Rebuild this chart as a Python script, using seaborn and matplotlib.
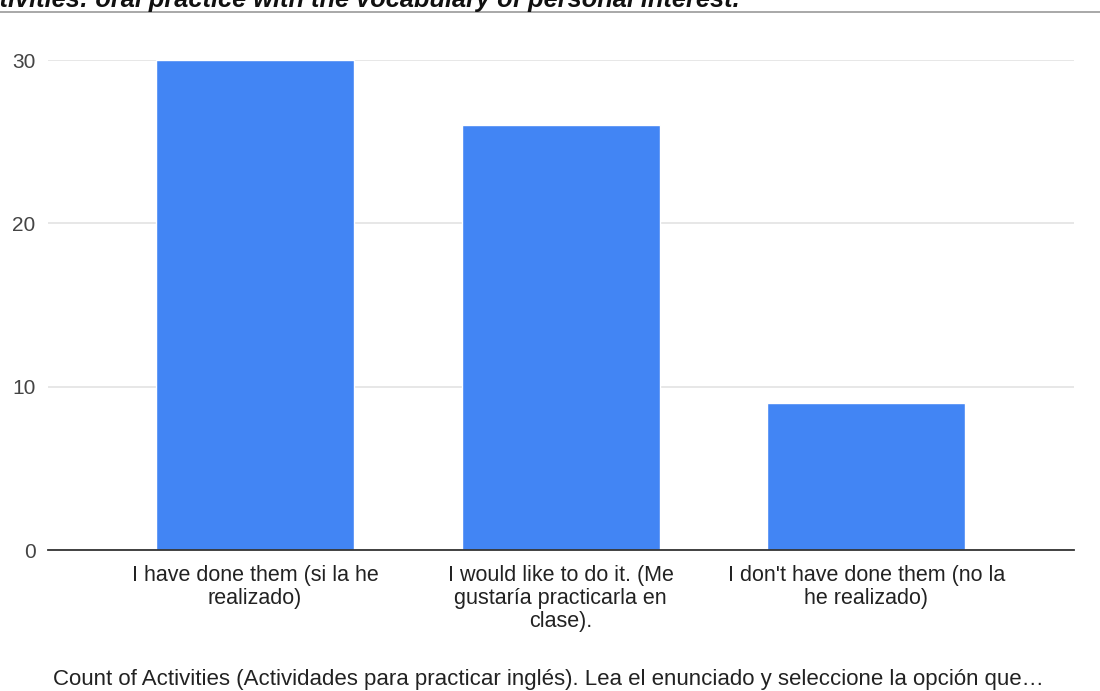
import matplotlib
matplotlib.use("Agg")
import matplotlib.pyplot as plt
import seaborn as sns
import pandas as pd

categories = [
    "I have done them (si la he\nrealizado)",
    "I would like to do it. (Me\ngustaría practicarla en\nclase).",
    "I don't have done them (no la\nhe realizado)",
]
counts = [30, 26, 9]
y_ticks = [0, 10, 20, 30]

title = "Activities: oral practice with the vocabulary of personal interest."
x_title = "Count of Activities (Actividades para practicar inglés). Lea el enunciado y seleccione la opción que…"

sns.set_theme(style="white")
plt.rcParams["font.family"] = ["Liberation Sans", "DejaVu Sans"]

df = pd.DataFrame({"category": categories, "count": counts})

W, H = 1100, 691
fig = plt.figure(figsize=(W / 100, H / 100), dpi=100)
ax = fig.add_axes([48 / W, (H - 550) / H, (1074 - 48) / W, 490 / H])

sns.barplot(data=df, x="category", y="count", color="#4285F4", saturation=1,
            width=0.648, ax=ax, zorder=3)

ax.set_xlim(-0.677, 2.68)
ax.set_ylim(0, 30)
ax.set_yticks(y_ticks)
ax.yaxis.grid(True, color="#e3e3e3", linewidth=1.2, zorder=0)
ax.set_axisbelow(True)
for s in ["top", "right", "left"]:
    ax.spines[s].set_visible(False)
ax.spines["bottom"].set_color("#333333")
ax.spines["bottom"].set_linewidth(1.3)
ax.spines["bottom"].set_zorder(4)

ax.tick_params(axis="y", length=0, pad=9, labelsize=15, labelcolor="#444444")
ax.tick_params(axis="x", length=0, pad=11, labelsize=15.5, labelcolor="#222222")
for lbl in ax.get_xticklabels():
    lbl.set_linespacing(1.12)
ax.set_xlabel("")
ax.set_ylabel("")

# Chart title running off the top edge, with its rule underneath
fig.text(740 / W, 1 - 6.5 / H, title, ha="right", va="baseline",
         fontsize=18.3, fontweight="bold", fontstyle="italic", color="#111111")
fig.add_artist(plt.Line2D([0, 1], [1 - 11.5 / H, 1 - 11.5 / H],
                          color="#999999", linewidth=1.2, transform=fig.transFigure))

fig.text(548 / W, 1 - 680 / H, x_title, ha="center", va="center",
         fontsize=16, color="#222222")

fig.savefig("out.png", dpi=100, facecolor="white")
